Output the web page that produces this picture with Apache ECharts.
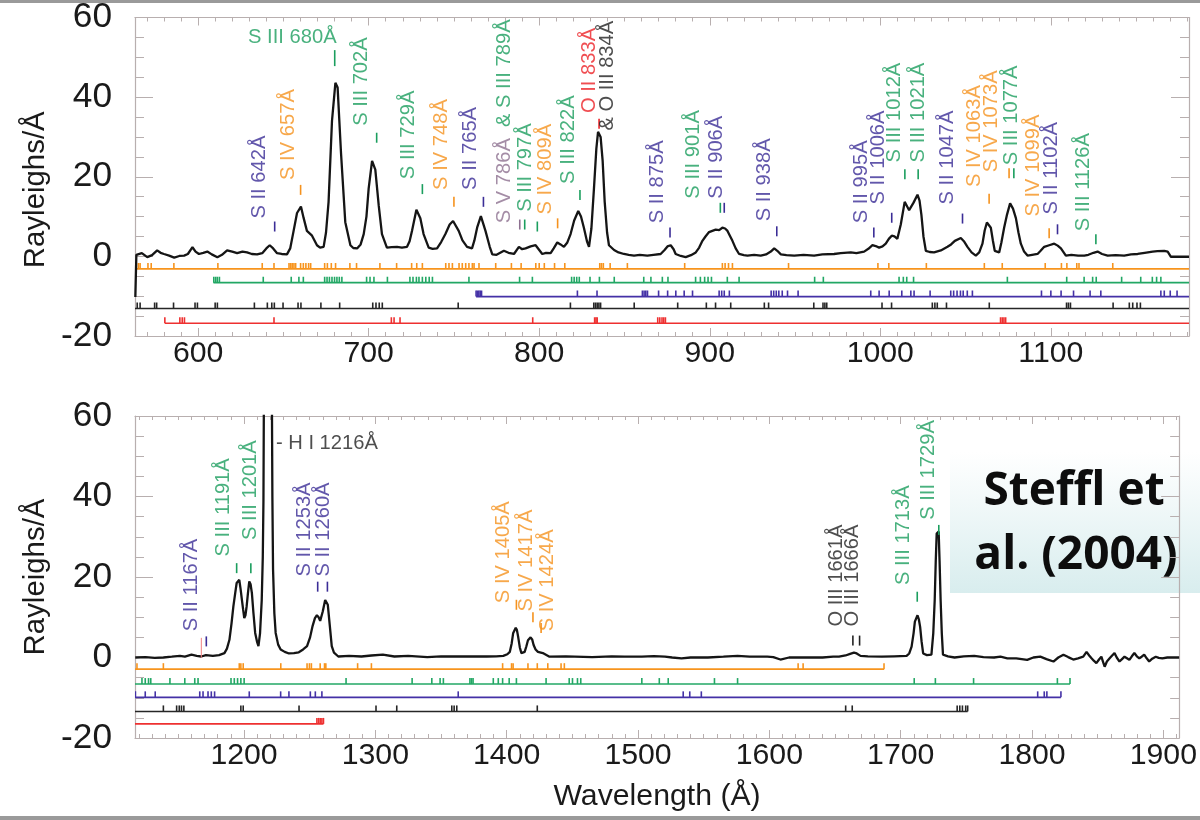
<!DOCTYPE html>
<html><head><meta charset="utf-8">
<script src="https://cdn.jsdelivr.net/npm/echarts@6/dist/echarts.min.js"></script>
<style>html,body{margin:0;padding:0;background:#fff}#c{width:1200px;height:820px}</style>
</head><body><div id="c"></div><script>
// ---------------- DATA ----------------
// Upper panel spectrum [wavelength Å, Rayleighs/Å]
const spectrumTop = [[563.2,-10.2],[563.8,0.4],[564.3,0.5],[567,0.8],[570.2,-0.2],[573,0.3],[576,1.5],[578,0.9],[580,0.6],[583,0.2],[586,-0.3],[589,0.1],[591.8,0.2],[594,0.6],[596.7,2.3],[598.5,1.2],[600.5,0.6],[603,0.9],[605.4,1.2],[608,0.5],[611.3,-0.2],[614,0.4],[617,1.5],[620,1.2],[622.9,0.8],[626,1.2],[628.7,1.0],[631.5,0.6],[634.6,0.5],[637.6,0.8],[640,2.0],[642,2.8],[644,2.0],[646.3,0.8],[649,0.6],[652.1,0.5],[654,2.0],[656,6.4],[658,10.9],[660.3,12.5],[661.9,9.6],[663.8,6.4],[666.8,5.2],[669.7,2.8],[671.5,2.2],[673.6,2.4],[675,6],[676.5,13.7],[678.5,34],[680.5,43.6],[681.8,42.4],[683.8,25.9],[686.3,8.6],[689.3,2.8],[691,2.1],[693.2,2],[695.3,3],[697.1,5.6],[698.7,10],[700,17],[702,24],[703.9,21.8],[705.9,12.8],[707.8,5.6],[710.7,2.2],[713.5,2.3],[716.6,2.4],[719.5,2.2],[722.5,2.4],[724,3.8],[725.4,6.4],[728,11.7],[730.3,9.6],[732.2,5.6],[735.2,2.2],[737.5,1.9],[740.1,2],[742.5,3.6],[745,5.6],[747.5,8],[749.5,8.9],[752.8,6.4],[755,4],[757.7,2.4],[760.6,2],[762,4],[763.6,7.2],[765.8,10.1],[768.5,6.4],[771,2.4],[772.5,0.5],[775,0.4],[779.3,1.4],[782,0.9],[785.2,0.6],[788.1,2.4],[790,1.8],[792,2],[795,2.5],[797.9,2.8],[801.8,0.6],[804,0.9],[806.7,0.8],[808.5,2],[810.6,3.5],[812.5,3],[814.5,2.4],[816.5,3.5],[818.4,5.6],[820.5,9],[822.9,11.4],[824.5,10],[826.2,7.2],[828,3.8],[829.2,2.4],[830.6,7],[832.1,17],[833.5,27],[834.5,31.3],[836,30],[837.2,24],[838.4,13.7],[839.8,6],[840.9,2.8],[843.9,1.6],[846.5,1],[849.7,0.6],[852.5,0.4],[855.6,0.2],[859,0.4],[863.4,0.2],[867,0.4],[871.2,0.6],[873.5,1.6],[875.2,2.5],[877.1,2.8],[878.8,1.8],[880,0.6],[883,0.1],[885.9,-0.2],[889,0.3],[891.8,1],[893.8,2.2],[895.7,3.9],[897.5,5],[899.6,6.1],[901.5,6.4],[903.5,6.7],[905.5,6.6],[907.4,7.2],[909,7],[910.4,6.4],[911.8,5.2],[913.3,3.9],[915.2,2],[917.2,0.6],[920,0.3],[922.1,0.2],[926,0.4],[929.9,0.2],[933,0.5],[935.8,1.2],[937.8,2],[939.6,1.4],[941.7,0.5],[945,0.3],[949.5,0.2],[955,0.4],[961.2,0.2],[966,0.5],[972.9,0.6],[976.8,0.8],[982.7,1],[986,0.8],[990.5,1.2],[993,1.9],[995.4,2.8],[997.3,2.6],[999.3,2.2],[1001.3,2.5],[1003.2,3.2],[1005,4.4],[1006.7,5.2],[1008.3,5],[1010,4.4],[1012,8],[1014.3,13.7],[1016.9,11.6],[1019.5,13.5],[1021.8,15.5],[1023,14],[1024.1,10.4],[1025.3,5],[1026.7,1.4],[1029,1.1],[1031.5,1],[1035.5,1.5],[1039.4,2.4],[1041.5,3],[1043.7,3.9],[1047.2,4.6],[1049,3.8],[1051.1,2.4],[1053.5,1],[1056,0.2],[1058,1],[1059.9,3.2],[1061.2,6.5],[1062.5,8.5],[1064.8,7.2],[1066,4],[1067.1,1.4],[1069.7,1],[1071,3.5],[1072.6,7.2],[1074.3,10.5],[1076.1,13.3],[1077.8,12],[1079.5,9.6],[1081,6],[1082.4,3.2],[1084.3,1.2],[1086.3,0.2],[1089,0.4],[1092.2,0.6],[1094,1.4],[1096.1,2.4],[1099,2.8],[1102,3.2],[1104,2.7],[1105.9,2],[1108.8,0.2],[1112,0.4],[1116,0.2],[1119.6,0.2],[1122,0.4],[1125,0.9],[1127.4,1.2],[1130,0.6],[1133.3,0.2],[1138,0.3],[1143,0.2],[1147,0.5],[1150.9,0.6],[1155,0.9],[1159.7,1.2],[1162.5,1.3],[1166.5,1.4],[1168.5,1.2],[1170.4,-0.1],[1181,-0.1]];

// Lower panel spectrum
const spectrumBottom = [[1117.2,0],[1125,0.1],[1132,-0.1],[1138.6,0],[1145,0.2],[1151.2,0.4],[1155,0.2],[1160,0.7],[1164,0.4],[1167.5,0.25],[1171,0.6],[1176.3,0.4],[1181,0.6],[1185.1,1.1],[1187,2.2],[1188.9,4.4],[1190.5,8.5],[1191.9,12.7],[1193.3,16],[1194.4,18.5],[1196.4,19.3],[1197.4,17],[1198.4,14.3],[1199.3,12],[1200.2,9.8],[1201.1,10.5],[1202,12.7],[1203,16],[1204,18.9],[1205,18.2],[1206,16],[1207.2,11],[1208.5,6.1],[1210,3.8],[1211,2.8],[1212.2,6],[1213.5,14.3],[1214.3,25],[1214.8,39],[1215.6,100],[1221.0,100],[1221.3,60],[1221.6,40],[1222.1,22],[1223.1,11],[1224.1,6.1],[1226,3.2],[1227.9,2],[1231,1.4],[1234.2,1],[1238,1.1],[1241.7,1.3],[1245,2],[1248,2.8],[1250.3,5],[1252.2,7.8],[1254,9.8],[1255.5,10.5],[1256.8,10],[1258,9.1],[1260,11.5],[1261.8,14.3],[1263.8,13.1],[1265.3,8],[1266.8,2.8],[1268.5,1.2],[1271.8,0.25],[1280,0.4],[1289.4,0.25],[1297,0.5],[1305.7,0.7],[1314.5,0.25],[1325,0.4],[1339.6,0.1],[1350,0.3],[1357.2,0.25],[1370,0.3],[1384.8,0.25],[1392,0.3],[1397.4,0.4],[1400.5,0.8],[1402.4,1.4],[1403.8,3.5],[1404.9,6],[1406.9,7.4],[1407.8,6.8],[1408.7,5.2],[1410,2.5],[1411.2,1.1],[1413.7,1.4],[1415,2.8],[1416.2,4.3],[1418.2,5],[1419.4,4.5],[1420.5,3.1],[1422,2],[1423.8,1.4],[1427.5,1.1],[1432.6,0.2],[1445,0.3],[1465.2,0.1],[1480,0.3],[1490,0.2],[1502.9,0.2],[1512,0.35],[1520.5,0.2],[1526,0],[1533.1,-0.2],[1540,0],[1553.2,0],[1565,0.2],[1575.8,0.4],[1585,0.2],[1598.4,0.2],[1603,0.1],[1608.4,-0.5],[1615,0],[1628.5,0],[1640.5,0],[1648.6,0.2],[1653,0.2],[1658,0.5],[1661.5,0.9],[1664.4,1.2],[1666.5,1],[1669.4,0.4],[1675,0.3],[1685.7,0.2],[1695,0.3],[1704.5,0.4],[1706.5,1],[1708.3,2.7],[1709.8,6],[1710.8,8.9],[1712.8,10.5],[1713.8,9.5],[1714.8,7.6],[1715.9,4],[1717.1,1],[1720,0.6],[1723.4,0.7],[1724.8,6],[1725.9,14.3],[1726.7,24],[1727.4,30.8],[1728.9,31.3],[1729.6,24],[1730.4,14.3],[1731.3,6],[1732.2,0.7],[1736,0.3],[1741,0],[1748,0.3],[1756,0.4],[1763,0.1],[1771.1,0],[1776,0.2],[1781.2,-0.2],[1788,-0.2],[1796.3,-0.6],[1801,0],[1806.3,0.2],[1811,-0.4],[1816.3,-1],[1820,0],[1823.9,0.7],[1827.5,0.1],[1831.4,-0.5],[1835,-0.2],[1839,0.2],[1841.5,1.4],[1843.5,0.5],[1845.3,-0.2],[1847,-0.8],[1849,-1.4],[1851,-0.5],[1852.8,0.2],[1854,-1],[1855.3,-2.3],[1857,-1],[1859.1,-0.2],[1861,0.5],[1862.8,1.1],[1864.5,0],[1866.6,-1],[1868.5,-0.4],[1870.4,0.2],[1872.3,-0.2],[1874.1,-0.6],[1876,0.3],[1877.9,1.1],[1879.8,0.3],[1881.7,-0.2],[1883.5,0.2],[1885.4,0.7],[1887.3,-0.2],[1889.2,-1],[1891.5,-0.3],[1894.2,0.2],[1896.5,-0.1],[1899.2,-0.2],[1903,0],[1912,0]];

// Line-list wavelengths (tick rows) — upper panel
const sivTop  = [565,566,570.6,572.5,585.8,611.6,637.6,644.5,653.3,654.3,655.2,656.2,657.2,660.1,661.7,663.2,664.8,666,674.2,675.8,678.1,680.6,689,692.9,706.6,716.4,725.2,728.2,731.5,745.2,747.1,749.1,753,754.9,756.9,758.8,760.8,761.8,764.7,774.5,783.7,789.4,798,800,803,809,815,835.5,836.5,837.6,841.6,851.7,885.3,907.4,909,911,913.3,946.2,998.6,1005,1027,1061,1071.5,1096.7,1106.2,1109.4,1115.2,1116.5,1136.3];
const siiiTop = [609.2,610.3,611.3,612.5,638.2,654.6,659.1,661.7,674.2,675.6,677,678.5,680,681.4,682.8,684.3,698.8,700.8,703.1,711,724.2,726,728,729.5,731.5,733.5,735.5,737.4,758.8,788.5,796,819,820.5,822,823.5,829.8,835.3,844,861.3,865.5,872.2,875.5,891.7,894.5,897,899,901,910.3,917.2,961.5,966.6,1011,1013.5,1015.5,1019.5,1074.5,1109.3,1119.5,1124.5,1126.6,1141.5,1152.7,1159.5,1162,1164.5];
const siiTop  = [763,763.8,764.6,765.4,766.2,822.4,833.9,860.5,861.5,862.5,863.5,870,875.3,880.1,885,889.9,905.5,907,908.5,911.5,936,937.5,939,940.5,942.5,945.6,951.8,994.4,999.3,1005.2,1012.6,1017.9,1019.8,1029.2,1041.3,1043,1045,1047,1048.6,1051,1054,1094.5,1100,1106,1113.3,1123,1129.3,1164.5,1166.5,1170,1174];
const oiiiTop = [564.3,566,574.5,575.7,585.6,598.2,599.6,610,611.3,633,640.6,643.2,644.7,649.8,658.6,660.3,672,683,702.4,704.3,706.2,708,752.5,818.3,832,833,834,835,836,855.7,881.2,898,903.4,912.3,932,934.5,961,966.4,967.5,968.6,1001,1006.6,1030.5,1032,1033.4,1038.8,1063.9,1109.2,1110.3,1111.5,1136.5,1146,1148,1150.5,1152.5];
const oiiTop  = [580.5,589.3,590.7,592,644.5,713.3,714.9,718.4,796.2,832.5,833.3,834,869.5,870.7,872,873,874,1070.5,1071.5,1072.5,1073.5];
// Row extents [start, end] in Å — upper panel
const rowSpanTop = {siv:[563,1181], siii:[609,1181], sii:[763,1181], oiii:[563,1181], oii:[580.5,1181]};

// Line-list wavelengths — lower panel
const sivBot  = [1118.5,1138.6,1196.4,1197.6,1199.4,1228,1248,1249.8,1251.3,1258,1261.3,1262.3,1286.5,1297,1396.9,1403.7,1404.9,1416.2,1423.3,1431.3,1441.4,1443.9,1621.9,1625.7,1687.3];
const siiiBot = [1122.3,1124.8,1127.3,1129,1143.6,1154.9,1162.5,1165,1190.1,1192.6,1195.1,1197.6,1200.1,1277.7,1328,1343,1349.3,1351.8,1372,1373.2,1374.4,1389.8,1393.6,1396.9,1401.9,1407.4,1430,1447.6,1450.1,1453.9,1456.4,1502.9,1516.2,1523,1558.2,1575.8,1710.3,1726.4,1755.5,1819.3,1828.9];
const siiBot  = [1117.3,1124.8,1132.4,1166.3,1168.8,1172.6,1175.1,1177.6,1204,1227.9,1234.2,1250.5,1254.3,1259.3,1363.1,1534.4,1539.4,1548.2,1804.3,1809.3,1811.3,1822];
const oiiiBot = [1138.6,1148.7,1150.7,1152.4,1154.2,1197.6,1199.4,1241.9,1300.5,1316.3,1358.2,1360,1362,1423.3,1658.1,1663.1,1743,1745,1747,1749.5,1751];
const oiiBot  = [1255.5,1256.8,1258,1259.3,1260.5];
const rowSpanBot = {siv:[1117,1687.3], siii:[1117,1828.9], sii:[1117,1822], oiii:[1117,1751], oii:[1117,1260.5]};

// Row levels (Rayleighs/Å) of the line-list rows
const rowLevelTop = {siv:-3.15, siii:-6.6, sii:-10.1, oiii:-13.1, oii:-16.8};
const rowLevelBot = {siv:-2.9, siii:-6.6, sii:-9.9, oiii:-13.4, oii:-16.5};

// Axis ranges / ticks
const xRangeTop = [563, 1181];
const xRangeBot = [1117, 1912];
const yRange = [-20, 60];

// Line identifications: text, ion, text anchor [Å, R/Å], marker [Å, R/Å]
const labelsTop = [
  {t:'S II 642Å', ion:'sii', at:[636.1,9.5], mk:[644.9,7.5]},
  {t:'S IV 657Å', ion:'siv', at:[652.8,19.2], mk:[660.1,16.7]},
  {t:'S III 680Å', ion:'siii', at:[681.2,55.1], mk:[680.1,49.8], horiz:'right'},
  {t:'S III 702Å', ion:'siii', at:[695.9,32.8], mk:[704.7,29.8]},
  {t:'S III 729Å', ion:'siii', at:[723.2,19.4], mk:[731.5,16.9]},
  {t:'S IV 748Å', ion:'siv', at:[742.8,16.7], mk:[750,13.7]},
  {t:'S II 765Å', ion:'sii', at:[759.8,16.7], mk:[767.3,13.7]},
  {t:'S V 786Å', t2:'  & S III 789Å', ion:'sv', ion2:'siii', at:[779.8,8.3], mk:[788.6,8.0]},
  {t:'', ion:'siii', at:null, mk:[791.5,8.0]},
  {t:'S III 797Å', ion:'siii', at:[792.1,11.2], mk:[798.9,7.5]},
  {t:'S IV 809Å', ion:'siv', at:[803.5,10.5], mk:[810.8,8.3]},
  {t:'S III 822Å', ion:'siii', at:[817,18.2], mk:[823.9,15.4]},
  {t:'O II 833Å', ion:'oii', at:[829.3,36], mk:[835.1,33.3]},
  {t:'& O III 834Å', ion:'oiii', at:[839.9,31.6], mk:null},
  {t:'S II 875Å', ion:'sii', at:[869.2,8.3], mk:[876.7,6]},
  {t:'S III 901Å', ion:'siii', at:[890.3,14.5], mk:[906.2,12.2]},
  {t:'S II 906Å', ion:'sii', at:[904.1,14.5], mk:[908.5,12.2]},
  {t:'S II 938Å', ion:'sii', at:[932,8.8], mk:[939.3,6.3]},
  {t:'S II 995Å', ion:'sii', at:[989.2,8.3], mk:[996.2,6]},
  {t:'S II 1006Å', ion:'sii', at:[998.8,13], mk:[1006.7,9.7]},
  {t:'S III 1012Å', ion:'siii', at:[1008.2,23.6], mk:[1014.4,20.6]},
  {t:'S III 1021Å', ion:'siii', at:[1022.3,23.6], mk:[1022.2,20.6]},
  {t:'S II 1047Å', ion:'sii', at:[1039.6,13], mk:[1048.2,9.5]},
  {t:'S IV 1063Å', ion:'siv', at:[1055.4,17.4], mk:[1063.8,14.5]},
  {t:'S IV 1073Å', ion:'siv', at:[1065.4,21.1], mk:[1075.5,20.9]},
  {t:'S III 1077Å', ion:'siii', at:[1077.1,22.9], mk:[1078.3,20.9]},
  {t:'S IV 1099Å', ion:'siv', at:[1089.7,10], mk:[1099,5.8]},
  {t:'S II 1102Å', ion:'sii', at:[1100.6,10.5], mk:[1103.9,6.8]},
  {t:'S III 1126Å', ion:'siii', at:[1119.1,6.3], mk:[1126.4,4.3]}
];
const labelsBot = [
  {t:'S II 1167Å', ion:'sii', at:[1160.2,6.5], mk:[1171.3,4]},
  {t:'', ion:'oii', at:null, mk:[1167.5,2.4], long:true},
  {t:'S III 1191Å', ion:'siii', at:[1184.3,25.1], mk:[1194.4,22.2]},
  {t:'S III 1201Å', ion:'siii', at:[1204.7,29.2], mk:[1205.2,22.2]},
  {t:'- H I 1216Å', ion:'oiii', at:[1224.3,53.2], mk:null, horiz:'left'},
  {t:'S II 1253Å', ion:'sii', at:[1246.1,20.1], mk:[1256.1,17.6]},
  {t:'S II 1260Å', ion:'sii', at:[1260.4,20.1], mk:[1263.5,17.6]},
  {t:'S IV 1405Å', ion:'siv', at:[1397.2,13.5], mk:[1407.4,13.1]},
  {t:'S IV 1417Å', ion:'siv', at:[1414.9,11.4], mk:[1420,10]},
  {t:'S IV 1424Å', ion:'siv', at:[1431.1,6.5], mk:[1426.2,7.3]},
  {t:'O III 1661Å', ion:'oiii', at:[1651.2,7.7], mk:[1663.6,4.2]},
  {t:'O III 1666Å', ion:'oiii', at:[1663.6,7.7], mk:[1668.7,4.2]},
  {t:'S III 1713Å', ion:'siii', at:[1702,18], mk:[1712.6,15.1]},
  {t:'S III 1729Å', ion:'siii', at:[1721.3,34.2], mk:[1729,31.7]}
];

// ---------------- STYLE ----------------
const ionColor = {siv:'#f5921e', siii:'#1b9e5e', sii:'#3b2d96', oiii:'#222222', oii:'#ec2227', sv:'#8d7090'};
const rowColor = {siv:'#f7941d', siii:'#22a764', sii:'#4431a6', oiii:'#262626', oii:'#ee3030'};
function fontAvailable(name){
  const ctx=document.createElement('canvas').getContext('2d');
  const s='mmmmmmmmmmlli1WQ0123456789';
  ctx.font='72px monospace'; const w1=ctx.measureText(s).width;
  ctx.font="72px '"+name+"', monospace"; const w2=ctx.measureText(s).width;
  return Math.abs(w1-w2)>0.5;
}
const NARROW = fontAvailable('Liberation Sans Narrow');
const FONT = NARROW ? "'Liberation Sans Narrow', 'Liberation Sans', Arial, sans-serif" : "'Liberation Sans', Arial, sans-serif";
const K = NARROW ? 1 : 0.84;
const AX = '#b8afaf';
const plainNum = v => String(v);

function xAxisDef(grid, range, split, pos, labels, name){
  return {type:'value', gridIndex:grid, position:pos, min:range[0], max:range[1], splitNumber:split,
    axisLine:{show:true, onZero:false, lineStyle:{color:AX, width:1.2}},
    axisTick:{show:true, inside:true, length:8, lineStyle:{color:AX, width:1}},
    minorTick:{show:true, splitNumber:10, length:4, lineStyle:{color:AX, width:1}},
    splitLine:{show:false}, minorSplitLine:{show:false},
    axisLabel:{show:labels, showMinLabel:false, showMaxLabel:false, formatter:plainNum,
      fontFamily:FONT, fontSize:36*K, color:'#1a1a1a', margin:3},
    name:name||'', nameLocation:'middle', nameGap:44,
    nameTextStyle:{fontFamily:FONT, fontSize:36*K, color:'#1a1a1a'}};
}
function yAxisDef(grid, pos, labels, name, namePad){
  return {type:'value', gridIndex:grid, position:pos, min:yRange[0], max:yRange[1], interval:20,
    axisLine:{show:true, onZero:false, lineStyle:{color:AX, width:1.2}},
    axisTick:{show:true, inside:true, length:18, lineStyle:{color:AX, width:1}},
    minorTick:{show:true, splitNumber:4, length:9, lineStyle:{color:AX, width:1}},
    splitLine:{show:false},
    axisLabel:{show:labels, formatter:plainNum, fontFamily:FONT, fontSize:42*K, color:'#1a1a1a', margin:23},
    name:name||'', nameLocation:'middle', nameGap:82,
    nameTextStyle:{fontFamily:FONT, fontSize:35*K, color:'#1a1a1a', padding:namePad||0}};
}

const series = [];
function addRows(xi, yi, lists, spans, levels){
  Object.keys(lists).forEach(k=>{
    series.push({type:'line', xAxisIndex:xi, yAxisIndex:yi, silent:true, animation:false, symbol:'none',
      data:[[spans[k][0], levels[k]], [spans[k][1], levels[k]]],
      lineStyle:{color:rowColor[k], width:1.6}, z:2});
    series.push({type:'custom', xAxisIndex:xi, yAxisIndex:yi, silent:true, animation:false, clip:true,
      data: lists[k].map(w=>[w, levels[k]]),
      renderItem:(p, api)=>{ const c = api.coord([api.value(0), api.value(1)]);
        return {type:'line', shape:{x1:c[0], y1:c[1], x2:c[0], y2:c[1]-6}, style:{stroke:rowColor[k], lineWidth:1.6}}; },
      z:2});
  });
}
addRows(0,0,{siv:sivTop, siii:siiiTop, sii:siiTop, oiii:oiiiTop, oii:oiiTop}, rowSpanTop, rowLevelTop);
addRows(2,2,{siv:sivBot, siii:siiiBot, sii:siiBot, oiii:oiiiBot, oii:oiiBot}, rowSpanBot, rowLevelBot);

series.push({type:'line', xAxisIndex:0, yAxisIndex:0, data:spectrumTop, symbol:'none', silent:true, animation:false,
  lineStyle:{color:'#151515', width:2.3}, z:5});
series.push({type:'line', xAxisIndex:2, yAxisIndex:2, data:spectrumBottom, symbol:'none', silent:true, animation:false,
  lineStyle:{color:'#151515', width:2.3}, z:5});

function addLabels(xi, yi, labels){
  const mks = labels.filter(l=>l.mk);
  series.push({type:'custom', xAxisIndex:xi, yAxisIndex:yi, silent:true, animation:false, clip:false,
    data: mks.map(l=>l.mk),
    renderItem:(p, api)=>{ const l = mks[p.dataIndex]; const c = api.coord([api.value(0), api.value(1)]);
      const h = l.long ? 10 : (l.horiz ? 8 : 5);
      const col = l.ion==='oii' && l.long ? '#f08080' : ionColor[l.ion];
      return {type:'line', shape:{x1:c[0], y1:c[1]-h, x2:c[0], y2:c[1]+h}, style:{stroke:col, lineWidth: l.long?1:1.6}}; },
    z:6});
  const txt = labels.filter(l=>l.at);
  series.push({type:'scatter', xAxisIndex:xi, yAxisIndex:yi, silent:true, animation:false, symbolSize:0, clip:false,
    data: txt.map(l=>{
      const lab = {show:true, position:'inside', fontFamily:FONT, fontSize:24*K, color:ionColor[l.ion],
        rotate: l.horiz ? 0 : 90, align: l.horiz ? l.horiz : 'left', verticalAlign:'middle'};
      if (l.t2) {
        lab.formatter = '{a|'+l.t+'}{b|'+l.t2+'}';
        lab.rich = {a:{color:ionColor[l.ion], fontFamily:FONT, fontSize:24*K}, b:{color:ionColor[l.ion2], fontFamily:FONT, fontSize:24*K}};
      } else lab.formatter = l.t;
      return {value:l.at, label:lab};
    }), z:7});
}
addLabels(0,0,labelsTop);
addLabels(2,2,labelsBot);

const chart = echarts.init(document.getElementById('c'), null, {renderer:'canvas'});
chart.setOption({
  animation:false,
  backgroundColor:'#ffffff',
  grid:[{left:135, right:11, top:13, height:323}, {left:135, right:11, top:416, height:322}],
  xAxis:[xAxisDef(0, xRangeTop, 6, 'bottom', true), xAxisDef(0, xRangeTop, 6, 'top', false),
         xAxisDef(1, xRangeBot, 8, 'bottom', true, 'Wavelength (Å)'), xAxisDef(1, xRangeBot, 8, 'top', false)],
  yAxis:[yAxisDef(0,'left',true,'Rayleighs/Å',[0,26,0,0]), yAxisDef(0,'right',false),
         yAxisDef(1,'left',true,'Rayleighs/Å'), yAxisDef(1,'right',false)],
  series: series,
  graphic:[
    {type:'rect', left:0, top:0, shape:{width:1200, height:3}, style:{fill:'#9a9a9a'}, z:100},
    {type:'rect', left:0, top:816, shape:{width:1200, height:4}, style:{fill:'#9a9a9a'}, z:100},
    {type:'group', left:950, top:452, z:100, children:[
      {type:'rect', shape:{x:0, y:0, width:250, height:141},
        style:{fill:new echarts.graphic.LinearGradient(0,0,0,1,[{offset:0,color:'rgba(255,255,255,0.88)'},{offset:1,color:'rgba(212,235,236,0.9)'}])}},
      {type:'text', style:{text:'Steffl et', x:124, y:40, align:'center', verticalAlign:'middle', textAlign:'center', textVerticalAlign:'middle',
        font:"bold 46px 'Open Sans', 'Noto Sans', sans-serif", fill:'#0d0d0d'}},
      {type:'text', style:{text:'al. (2004)', x:126, y:104, align:'center', verticalAlign:'middle', textAlign:'center', textVerticalAlign:'middle',
        font:"bold 46px 'Open Sans', 'Noto Sans', sans-serif", fill:'#0d0d0d'}}
    ]}
  ]
});
</script></body></html>
